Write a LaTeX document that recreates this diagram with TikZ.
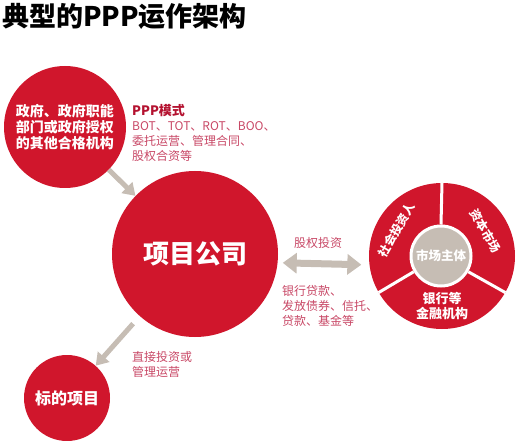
\documentclass[tikz,border=0pt]{standalone}
\usepackage{fontspec}
\setmainfont{Noto Sans CJK SC}
\usetikzlibrary{arrows.meta, calc}
\definecolor{pppred}{RGB}{208,22,44}
\definecolor{darkred}{RGB}{180,18,48}
\definecolor{labelred}{RGB}{200,72,102}
\definecolor{arrowgrey}{RGB}{198,189,180}

\begin{document}
\begin{tikzpicture}[x=1pt, y=-1pt]
        \tikzstyle{disc} = [circle, fill=pppred, inner sep=0pt, text=white, align=center]
        \tikzstyle{note} = [text=labelred, align=left, inner sep=0pt, font=\fontsize{12}{15}\selectfont]
        \tikzstyle{fat} = [draw=arrowgrey, line width=5pt, -{Triangle[width=15pt, length=12pt]}]
        \tikzstyle{divider} = [draw=white, line width=3pt]
        \tikzstyle{slice} = [inner sep=0pt, text=white, font=\bfseries\fontsize{12}{14}\selectfont]

        \useasboundingbox (0,0) rectangle (517,441);

        % title
        \node[anchor=west, inner sep=0pt, font=\bfseries\fontsize{27}{30}\selectfont] (title) at (2,16) {典型的PPP运作架构};

        % the three red circles
        \node[disc, minimum size=122pt, font=\bfseries\fontsize{14}{16}\selectfont] (gov) at (65,127)
            {政府、政府职能\\部门或政府授权\\的其他合格机构};
        \node[disc, minimum size=166pt, font=\bfseries\fontsize{26}{28}\selectfont] (company) at (195,254) {项目公司};
        \node[disc, minimum size=86pt, font=\bfseries\fontsize{16}{18}\selectfont] (target) at (67,398) {标的项目};

        % market pie
        \node[disc, minimum size=146pt] (market) at (442,256) {};
        \node[circle, fill=arrowgrey, draw=white, line width=3pt, minimum size=60pt, inner sep=0pt,
              text=white, font=\bfseries\fontsize{12.5}{14}\selectfont] (core) at (441,256) {市场主体};
        \draw[divider] (core.90) -- (market.90);
        \draw[divider] (core.210) -- (market.210);
        \draw[divider] (core.330) -- (market.330);
        \node[slice, rotate=60] (investor) at ($(market.center)!0.71!(market.150)$) {社会投资人};
        \node[slice, rotate=-60] (capital) at ($(market.center)!0.69!(market.30)$) {资本市场};
        \node[slice, align=center, font=\bfseries\fontsize{13}{15}\selectfont] (bank)
            at ($(market.center)!0.68!(market.270)$) {银行等\\金融机构};

        % arrows
        \draw[fat] (gov) -- (company);
        \draw[fat, shorten <=10pt] (company) -- (target);
        \draw[fat, line width=7pt, {Triangle[width=20pt, length=14pt]}-{Triangle[width=20pt, length=14pt]},
              shorten <=5pt, shorten >=8pt] (company.-6) -- (market.187);

        % labels
        \node[note, anchor=north west] (mode) at (132,104)
            {{\bfseries\color{darkred}\fontsize{13}{15}\selectfont PPP模式}\\BOT、TOT、ROT、BOO、\\委托运营、管理合同、\\股权合资等};
        \node[note] (equity) at (318,243) {股权投资};
        \node[note, anchor=north west] (loans) at (282,285) {银行贷款、\\发放债券、信托、\\贷款、基金等};
        \node[note, anchor=north west] (direct) at (132,351) {直接投资或\\管理运营};

\end{tikzpicture}
\end{document}
